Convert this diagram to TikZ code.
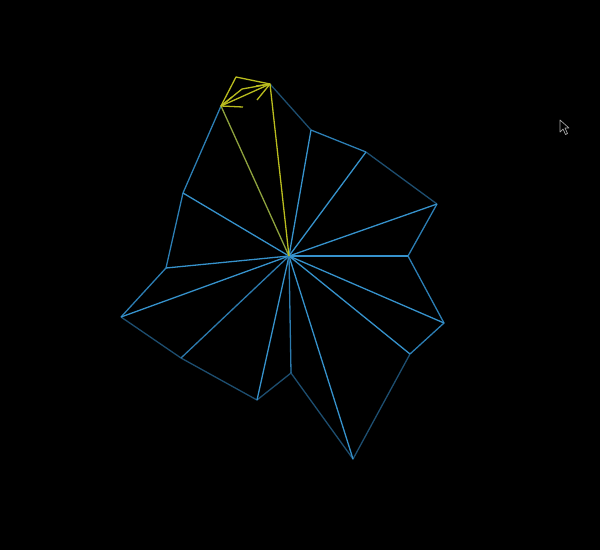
\documentclass[tikz,border=0pt]{standalone}
\begin{document}
\begin{tikzpicture}[x=1pt,y=-1pt,
  spoke/.style={draw=spokeblue,line width=1.3pt},
  rimmid/.style={draw=rimmid,line width=1.3pt},
  rimdark/.style={draw=rimdark,line width=1.3pt},
  yel/.style={draw=yel,line width=1.3pt,line join=round},
  yelgreen/.style={draw=yelgreen,line width=1.3pt}]
\definecolor{spokeblue}{HTML}{3692CC}
\definecolor{spokedim}{HTML}{2C7AAE}
\definecolor{rimmid}{HTML}{2C7EB4}
\definecolor{rimdark}{HTML}{1D4E70}
\definecolor{yel}{HTML}{B9BC1E}
\definecolor{yelgreen}{HTML}{8EA23E}
\fill[black] (0,0) rectangle (600,550);
\useasboundingbox (0,0) rectangle (600,550);
\coordinate (C) at (289,256);
\coordinate (P1) at (270,84);
\coordinate (P2) at (311,130);
\coordinate (P3) at (366,152);
\coordinate (P4) at (437,204);
\coordinate (P5) at (408,256);
\coordinate (P6) at (444,323);
\coordinate (P7) at (410,354);
\coordinate (P8) at (353,459);
\coordinate (P9) at (291,373);
\coordinate (P10) at (257,400);
\coordinate (P11) at (181,358);
\coordinate (P12) at (121,317);
\coordinate (P13) at (166,268);
\coordinate (P14) at (183,193);
\coordinate (P15) at (221,106);
\coordinate (T) at (236,77);
% rim
\draw[rimdark] (P1) -- (P2);
\draw[rimmid] (P2) -- (P3);
\draw[rimdark] (P3) -- (P4);
\draw[rimmid] (P4) -- (P5) -- (P6) -- (P7);
\draw[rimdark] (P7) -- (P8) -- (P9) -- (P10) -- (P11) -- (P12);
\draw[rimmid] (P12) -- (P13) -- (P14) -- (P15);
% spokes
\foreach \p in {P2,P3,P4,P5,P6,P7,P8,P10,P12,P13,P14}
  \draw[spoke] (C) -- (\p);
\draw[spoke,draw=spokedim] (C) -- (P9);
\draw[spoke,draw=spokedim] (C) -- (P11);
\draw[yelgreen] (C) -- (P15);
\draw[yel] (C) -- (P1);
% yellow cap
\draw[yel] (P15) -- (T) -- (P1);
\draw[yel] (P15) -- (242,89) -- (P1);
\draw[yel] (P15) -- (P1);
\draw[yel] (257,100) -- (P1) -- (256,86);
\draw[yel] (243,107) -- (P15) -- (232,97);
% cursor
\draw[draw=gray!70,fill=black,line width=0.7pt,line join=round]
  (560,120) -- (560,132) -- (563,129) -- (565.5,134.5) -- (567.5,133.5) -- (565,128) -- (569,128) -- cycle;
\end{tikzpicture}
\end{document}
